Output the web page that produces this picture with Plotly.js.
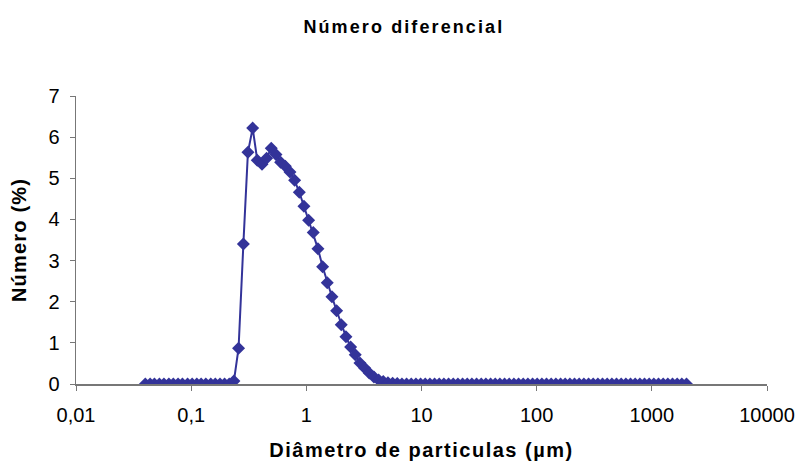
<!DOCTYPE html>
<html>
<head>
<meta charset="utf-8">
<script src="https://cdn.plot.ly/plotly-3.0.1.min.js"></script>
<style>
  html, body { margin: 0; padding: 0; background: #fff; }
  #chart { width: 795px; height: 468px; }
  .gtitle { letter-spacing: 2.1px; }
  .xtitle { letter-spacing: 1.5px; }
  .ytitle { letter-spacing: 1.2px; }
</style>
</head>
<body>
<div id="chart"></div>
<script>
// Particle diameters (µm)
const diameters = [
  0.040, 0.044, 0.048, 0.053, 0.058, 0.064, 0.070, 0.077, 0.084, 0.093,
  0.102, 0.112, 0.122, 0.134, 0.148, 0.162, 0.178, 0.195, 0.214, 0.235,
  0.258, 0.284, 0.311, 0.342, 0.375, 0.412, 0.452, 0.496, 0.545, 0.598,
  0.657, 0.721, 0.791, 0.869, 0.953, 1.047, 1.149, 1.261, 1.385, 1.520,
  1.669, 1.832, 2.011, 2.208, 2.423, 2.660, 2.920, 3.206, 3.519, 3.863,
  4.241, 4.656, 5.111, 5.611, 6.159, 6.761, 7.422, 8.148, 8.944, 9.819,
  10.78, 11.83, 12.99, 14.26, 15.65, 17.18, 18.86, 20.71, 22.73, 24.95,
  27.39, 30.07, 33.01, 36.24, 39.78, 43.67, 47.94, 52.62, 57.77, 63.41,
  69.61, 76.42, 83.89, 92.09, 101.1, 111.0, 121.8, 133.7, 146.8, 161.2,
  176.9, 194.2, 213.2, 234.1, 256.9, 282.1, 309.6, 339.9, 373.1, 409.6,
  449.7, 493.6, 541.9, 594.9, 653.0, 716.9, 786.9, 863.9, 948.3, 1041,
  1143, 1255, 1377, 1512, 1660, 1822, 2000
];

// Number (%)
const numberPct = [
  0, 0, 0, 0, 0, 0, 0, 0, 0, 0,
  0, 0, 0, 0, 0, 0, 0, 0, 0, 0.07,
  0.87, 3.40, 5.63, 6.22, 5.44, 5.34, 5.49, 5.73, 5.58, 5.39,
  5.29, 5.15, 4.95, 4.66, 4.32, 3.98, 3.68, 3.29, 2.85, 2.46,
  2.12, 1.78, 1.44, 1.15, 0.90, 0.71, 0.51, 0.39, 0.27, 0.17,
  0.10, 0.06, 0.03, 0.02, 0.01, 0, 0, 0, 0, 0,
  0, 0, 0, 0, 0, 0, 0, 0, 0, 0,
  0, 0, 0, 0, 0, 0, 0, 0, 0, 0,
  0, 0, 0, 0, 0, 0, 0, 0, 0, 0,
  0, 0, 0, 0, 0, 0, 0, 0, 0, 0,
  0, 0, 0, 0, 0, 0, 0, 0, 0, 0,
  0, 0, 0, 0, 0, 0, 0
];

const xTickVals = [0.01, 0.1, 1, 10, 100, 1000, 10000];
const xTickText = ["0,01", "0,1", "1", "10", "100", "1000", "10000"];
const yTickVals = [0, 1, 2, 3, 4, 5, 6, 7];

const trace = {
  x: diameters,
  y: numberPct,
  type: "scatter",
  mode: "lines+markers",
  line: { color: "#333399", width: 2 },
  marker: { symbol: "diamond", size: 10, color: "#333399" },
  hoverinfo: "x+y"
};

const layout = {
  width: 795,
  height: 468,
  margin: { l: 76, r: 28, t: 96, b: 84, pad: 0 },
  paper_bgcolor: "#ffffff",
  plot_bgcolor: "#ffffff",
  showlegend: false,
  font: { family: "Liberation Sans, Arial, sans-serif", color: "#000000", size: 20 },
  title: {
    text: "<b>Número diferencial</b>",
    font: { family: "Liberation Sans, Arial, sans-serif", size: 18, color: "#000000" },
    x: 0.508, xref: "container", xanchor: "center",
    y: 1 - 27 / 468, yref: "container", yanchor: "middle"
  },
  xaxis: {
    type: "log",
    range: [-2, 4],
    tickvals: xTickVals,
    ticktext: xTickText,
    showgrid: false,
    zeroline: false,
    showline: true,
    linecolor: "#777777",
    linewidth: 1.5,
    ticks: "outside",
    ticklen: 5,
    tickcolor: "#777777",
    tickfont: { size: 20, color: "#000000" },
    ticklabelstandoff: 7,
    title: {
      text: "<b>Diâmetro de particulas (µm)</b>",
      font: { size: 20, color: "#000000" },
      standoff: 18
    }
  },
  yaxis: {
    range: [0, 7],
    tickvals: yTickVals,
    showgrid: false,
    zeroline: false,
    showline: true,
    linecolor: "#777777",
    linewidth: 1.5,
    ticks: "outside",
    ticklen: 5,
    tickcolor: "#777777",
    tickfont: { size: 20, color: "#000000" },
    ticklabelstandoff: 6,
    title: {
      text: "<b>Número (%)</b>",
      font: { size: 20, color: "#000000" },
      standoff: 16
    }
  }
};

Plotly.newPlot("chart", [trace], layout, { displayModeBar: false, staticPlot: true });
</script>
</body>
</html>
